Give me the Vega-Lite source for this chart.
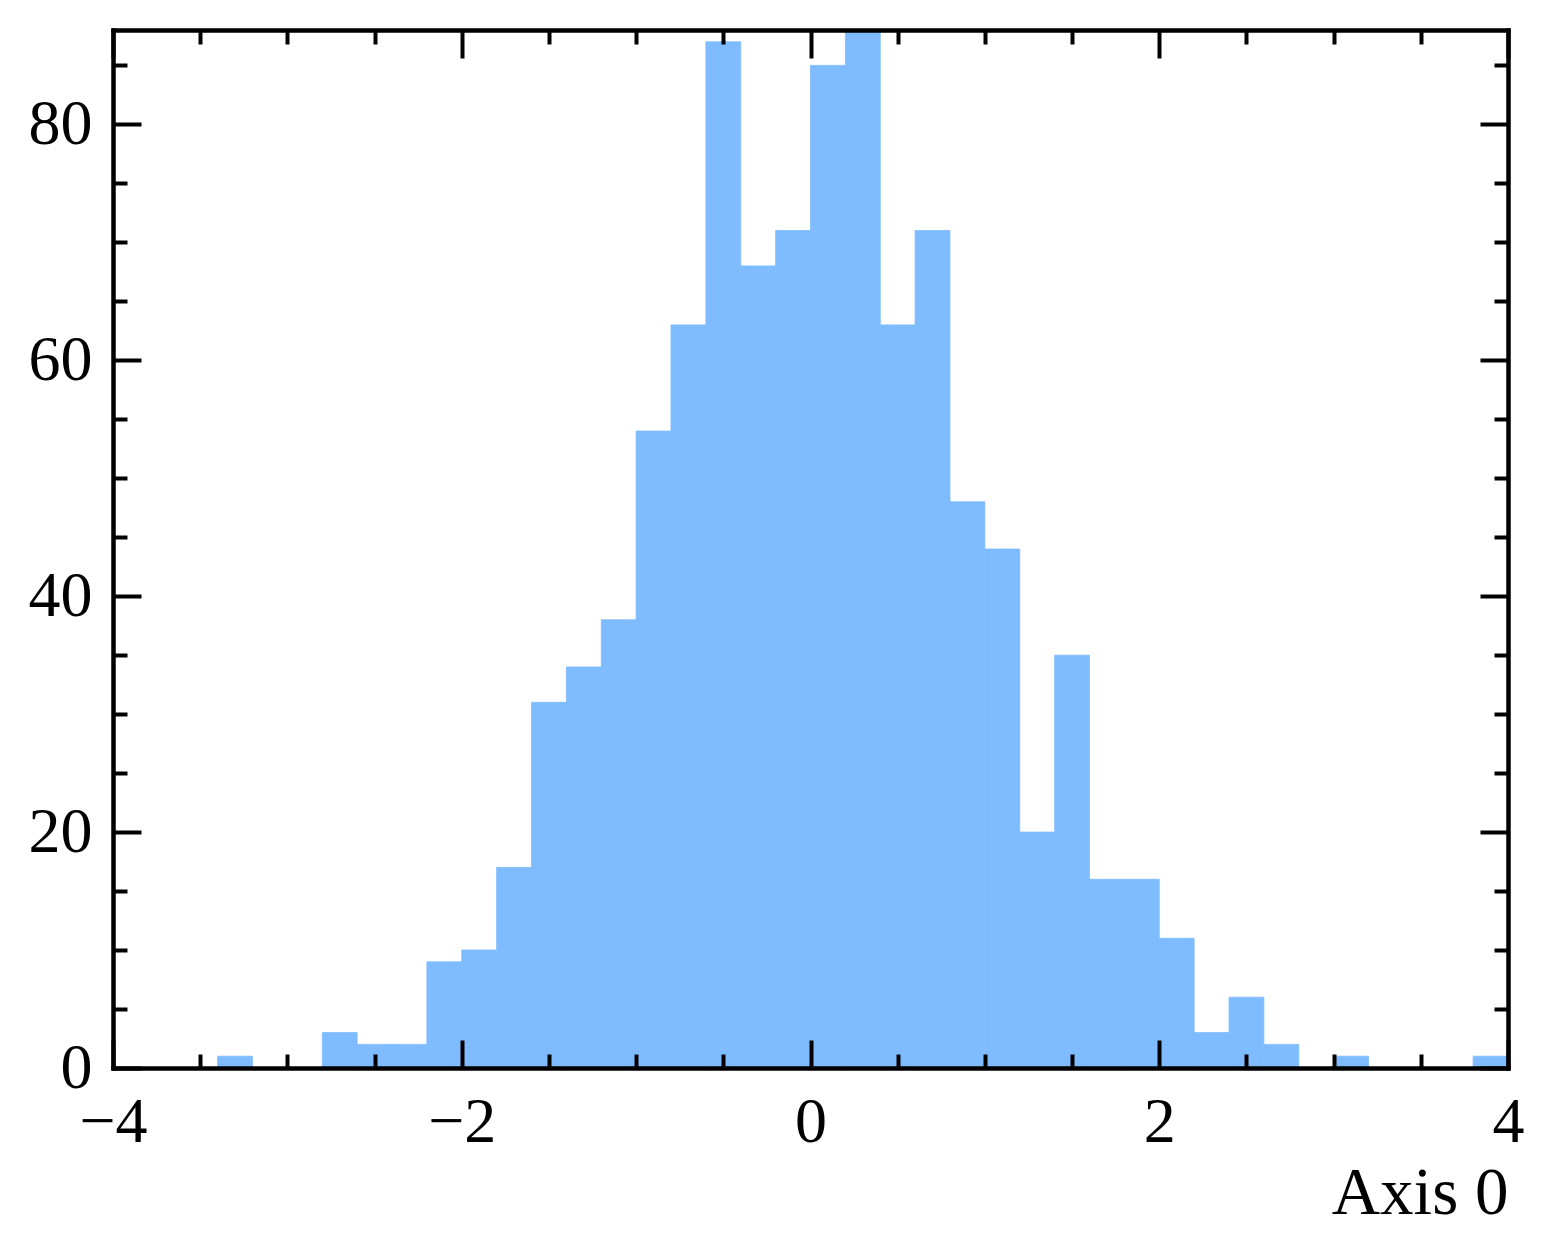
{
  "$schema": "https://vega.github.io/schema/vega-lite/v6.json",
  "width": 1395,
  "height": 1038,
  "autosize": {"type": "none"},
  "padding": {"left": 113, "top": 30, "right": 45, "bottom": 189},
  "background": "white",
  "config": {
    "view": {"stroke": null},
    "axis": {
      "domain": true,
      "domainColor": "black",
      "domainWidth": 4,
      "domainCap": "square",
      "tickColor": "black",
      "tickWidth": 4,
      "labelFont": "Liberation Serif",
      "labelFontSize": 64,
      "labelColor": "black",
      "titleFont": "Liberation Serif",
      "titleFontSize": 67,
      "titleFontWeight": "normal",
      "titleColor": "black",
      "grid": false,
      "labelFlush": false,
      "labelOverlap": false,
      "zindex": 1
    }
  },
  "data": {
    "values": [
      {"bin_start": -3.4, "bin_end": -3.2, "count": 1},
      {"bin_start": -2.8, "bin_end": -2.6, "count": 3},
      {"bin_start": -2.6, "bin_end": -2.4, "count": 2},
      {"bin_start": -2.4, "bin_end": -2.2, "count": 2},
      {"bin_start": -2.2, "bin_end": -2.0, "count": 9},
      {"bin_start": -2.0, "bin_end": -1.8, "count": 10},
      {"bin_start": -1.8, "bin_end": -1.6, "count": 17},
      {"bin_start": -1.6, "bin_end": -1.4, "count": 31},
      {"bin_start": -1.4, "bin_end": -1.2, "count": 34},
      {"bin_start": -1.2, "bin_end": -1.0, "count": 38},
      {"bin_start": -1.0, "bin_end": -0.8, "count": 54},
      {"bin_start": -0.8, "bin_end": -0.6, "count": 63},
      {"bin_start": -0.6, "bin_end": -0.4, "count": 87},
      {"bin_start": -0.4, "bin_end": -0.2, "count": 68},
      {"bin_start": -0.2, "bin_end": 0.0, "count": 71},
      {"bin_start": 0.0, "bin_end": 0.2, "count": 85},
      {"bin_start": 0.2, "bin_end": 0.4, "count": 88},
      {"bin_start": 0.4, "bin_end": 0.6, "count": 63},
      {"bin_start": 0.6, "bin_end": 0.8, "count": 71},
      {"bin_start": 0.8, "bin_end": 1.0, "count": 48},
      {"bin_start": 1.0, "bin_end": 1.2, "count": 44},
      {"bin_start": 1.2, "bin_end": 1.4, "count": 20},
      {"bin_start": 1.4, "bin_end": 1.6, "count": 35},
      {"bin_start": 1.6, "bin_end": 1.8, "count": 16},
      {"bin_start": 1.8, "bin_end": 2.0, "count": 16},
      {"bin_start": 2.0, "bin_end": 2.2, "count": 11},
      {"bin_start": 2.2, "bin_end": 2.4, "count": 3},
      {"bin_start": 2.4, "bin_end": 2.6, "count": 6},
      {"bin_start": 2.6, "bin_end": 2.8, "count": 2},
      {"bin_start": 3.0, "bin_end": 3.2, "count": 1},
      {"bin_start": 3.8, "bin_end": 4.0, "count": 1}
    ]
  },
  "layer": [
    {
      "mark": {"type": "bar", "color": "#7fbbff", "stroke": "#7fbbff", "strokeWidth": 0.8, "opacity": 1},
      "encoding": {
        "x": {"field": "bin_start", "type": "quantitative",
              "scale": {"domain": [-4, 4], "nice": false, "zero": false},
              "axis": {"orient": "bottom", "zindex": 2, "values": [-4, -2, 0, 2, 4], "tickSize": -28, "labelPadding": 50,
                       "title": "Axis 0", "titleX": 1395, "titleY": 145, "titleAlign": "right", "titleBaseline": "alphabetic", "titleAnchor": null}},
        "x2": {"field": "bin_end"},
        "y": {"field": "count", "type": "quantitative",
              "scale": {"domain": [0, 88], "nice": false},
              "axis": {"orient": "left", "zindex": 2, "values": [0, 20, 40, 60, 80], "tickSize": -28, "labelPadding": 49, "title": null}},
        "y2": {"datum": 0}
      }
    },
    {
      "mark": {"type": "bar", "opacity": 0},
      "encoding": {
        "x": {"field": "bin_start", "type": "quantitative",
              "axis": {"orient": "top", "zindex": 2, "values": [-4, -2, 0, 2, 4], "tickSize": -28, "labels": false, "title": null}},
        "x2": {"field": "bin_end"},
        "y": {"field": "count", "type": "quantitative",
              "axis": {"orient": "right", "zindex": 2, "values": [0, 20, 40, 60, 80], "tickSize": -28, "labels": false, "title": null}},
        "y2": {"datum": 0}
      }
    },
    {
      "mark": {"type": "bar", "opacity": 0},
      "encoding": {
        "x": {"field": "bin_start", "type": "quantitative",
              "axis": {"orient": "bottom", "zindex": 2, "values": [-3.5, -3, -2.5, -1.5, -1, -0.5, 0.5, 1, 1.5, 2.5, 3, 3.5], "tickSize": -14, "labels": false, "title": null}},
        "x2": {"field": "bin_end"},
        "y": {"field": "count", "type": "quantitative",
              "axis": {"orient": "left", "zindex": 2, "values": [5, 10, 15, 25, 30, 35, 45, 50, 55, 65, 70, 75, 85], "tickSize": -14, "labels": false, "title": null}},
        "y2": {"datum": 0}
      }
    },
    {
      "mark": {"type": "bar", "opacity": 0},
      "encoding": {
        "x": {"field": "bin_start", "type": "quantitative",
              "axis": {"orient": "top", "zindex": 2, "values": [-3.5, -3, -2.5, -1.5, -1, -0.5, 0.5, 1, 1.5, 2.5, 3, 3.5], "tickSize": -14, "labels": false, "title": null}},
        "x2": {"field": "bin_end"},
        "y": {"field": "count", "type": "quantitative",
              "axis": {"orient": "right", "zindex": 2, "values": [5, 10, 15, 25, 30, 35, 45, 50, 55, 65, 70, 75, 85], "tickSize": -14, "labels": false, "title": null}},
        "y2": {"datum": 0}
      }
    }
  ],
  "resolve": {"axis": {"x": "independent", "y": "independent"}}
}
